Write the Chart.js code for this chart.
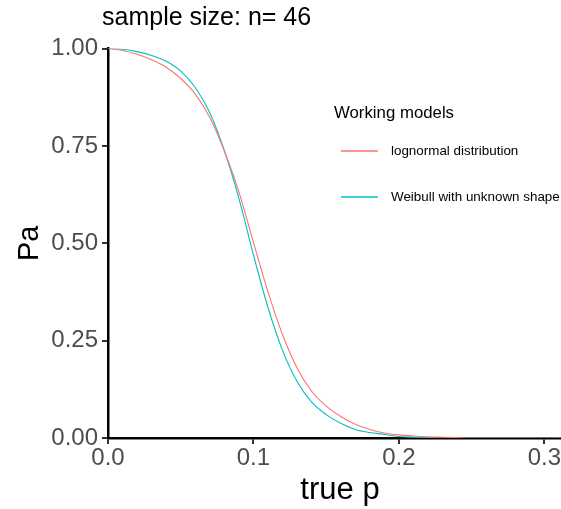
<!DOCTYPE html>
<html>
<head>
<meta charset="utf-8">
<script src="https://cdn.jsdelivr.net/npm/chart.js@4.4.1/dist/chart.umd.min.js"></script>
<style>
html, body { margin: 0; padding: 0; background: #fff; overflow: hidden; }
#wrap { width: 561px; height: 509px; overflow: hidden; }
canvas { display: block; }
</style>
</head>
<body>
<div id="wrap"><canvas id="oc" width="620" height="509"></canvas></div>
<script>
// OC curves, Pa at every 0.01 of true p
var trueP = [ 0.00, 0.01, 0.02, 0.03, 0.04, 0.05, 0.06, 0.07, 0.08, 0.09,
              0.10, 0.11, 0.12, 0.13, 0.14, 0.15, 0.16, 0.17, 0.18, 0.19,
              0.20, 0.21, 0.22, 0.23, 0.24, 0.25, 0.26, 0.27, 0.28, 0.29,
              0.30, 0.31, 0.32 ];
var paLognormal = [ 1.000, 0.995, 0.985, 0.971, 0.952, 0.923, 0.883, 0.823, 0.737, 0.632,
                    0.502, 0.375, 0.265, 0.180, 0.120, 0.082, 0.055, 0.035, 0.022, 0.013,
                    0.008, 0.005, 0.003, 0.002, 0.001, 0, 0, 0, 0, 0,
                    0, 0, 0 ];
var paWeibull = [ 1.000, 0.998, 0.992, 0.982, 0.967, 0.942, 0.900, 0.835, 0.738, 0.615,
                  0.470, 0.335, 0.225, 0.145, 0.092, 0.060, 0.038, 0.022, 0.014, 0.009,
                  0.004, 0.002, 0.001, 0, 0, 0, 0, 0, 0, 0,
                  0, 0, 0 ];
var seriesNames = [ 'lognormal distribution', 'Weibull with unknown shape' ];
var seriesColors = [ '#F8766D', '#00BFC4' ];
var xTicks = [ 0.0, 0.1, 0.2, 0.3 ];
var yTicks = [ 0.00, 0.25, 0.50, 0.75, 1.00 ];
var titleText = 'sample size: n= 46';
var legendTitle = 'Working models';

var FONT = '"Liberation Sans", Arial, Helvetica, sans-serif';

var toPoints = function ( ys ) {
    return trueP.map( function ( p, i ) {
        return { x: p, y: ys[ i ] };
    } );
};

// title and the legend box, drawn in the free space of the panel
var overlay = {
    id: 'overlay',
    afterDraw: function ( chart ) {
        var ctx = chart.ctx;
        ctx.save();
        ctx.fillStyle = '#000';
        ctx.textBaseline = 'middle';
        ctx.textAlign = 'left';
        ctx.font = '25px ' + FONT;
        ctx.fillText( titleText, 102, 18 );

        ctx.font = '16.8px ' + FONT;
        ctx.fillText( legendTitle, 334, 113 );

        ctx.font = '13.4px ' + FONT;
        var rows = [ 151, 197 ];
        for ( var i = 0; i < seriesNames.length; i++ ) {
            ctx.strokeStyle = seriesColors[ i ];
            ctx.lineWidth = 1.4;
            ctx.beginPath();
            ctx.moveTo( 341, rows[ i ] );
            ctx.lineTo( 378, rows[ i ] );
            ctx.stroke();
            ctx.fillText( seriesNames[ i ], 391, rows[ i ] );
        }
        ctx.restore();
    }
};

new Chart( document.getElementById( 'oc' ), {
    type: 'scatter',
    data: {
        datasets: [
            { label: seriesNames[ 0 ], data: toPoints( paLognormal ), borderColor: seriesColors[ 0 ] },
            { label: seriesNames[ 1 ], data: toPoints( paWeibull ), borderColor: seriesColors[ 1 ] }
        ]
    },
    options: {
        responsive: false,
        animation: false,
        devicePixelRatio: 1,
        layout: { padding: { top: 48.5, right: 48, bottom: 0, left: 0 } },
        elements: {
            point: { radius: 0, hoverRadius: 0 },
            line: { borderWidth: 1.1, cubicInterpolationMode: 'monotone', fill: false }
        },
        datasets: { scatter: { showLine: true } },
        plugins: { legend: { display: false }, tooltip: { enabled: false }, title: { display: false } },
        scales: {
            x: {
                type: 'linear',
                min: 0,
                max: 0.319,
                z: 1,
                afterFit: function ( s ) { s.height = 71; },
                afterBuildTicks: function ( s ) {
                    s.ticks = xTicks.map( function ( v ) { return { value: v }; } );
                },
                ticks: {
                    color: '#4D4D4D',
                    font: { family: FONT, size: 24 },
                    padding: 0,
                    maxRotation: 0,
                    callback: function ( v ) { return v.toFixed( 1 ); }
                },
                grid: { drawOnChartArea: false, drawTicks: true, tickLength: 6, color: '#333333', lineWidth: 2 },
                border: { display: true, color: '#000', width: 2.5 },
                title: {
                    display: true,
                    text: 'true p',
                    color: '#000',
                    font: { family: FONT, size: 31 },
                    padding: { top: 0, bottom: 0 }
                }
            },
            y: {
                type: 'linear',
                min: 0,
                max: 1,
                z: 1,
                afterFit: function ( s ) { s.width = 108; },
                afterBuildTicks: function ( s ) {
                    s.ticks = yTicks.map( function ( v ) { return { value: v }; } );
                },
                ticks: {
                    color: '#4D4D4D',
                    font: { family: FONT, size: 24 },
                    padding: 4,
                    callback: function ( v ) { return v.toFixed( 2 ); }
                },
                grid: { drawOnChartArea: false, drawTicks: true, tickLength: 6, color: '#333333', lineWidth: 2 },
                border: { display: true, color: '#000', width: 2.5 },
                title: {
                    display: true,
                    text: 'Pa',
                    color: '#000',
                    font: { family: FONT, size: 29 },
                    padding: { top: 13, bottom: 0 }
                }
            }
        }
    },
    plugins: [ overlay ]
} );
</script>
</body>
</html>
